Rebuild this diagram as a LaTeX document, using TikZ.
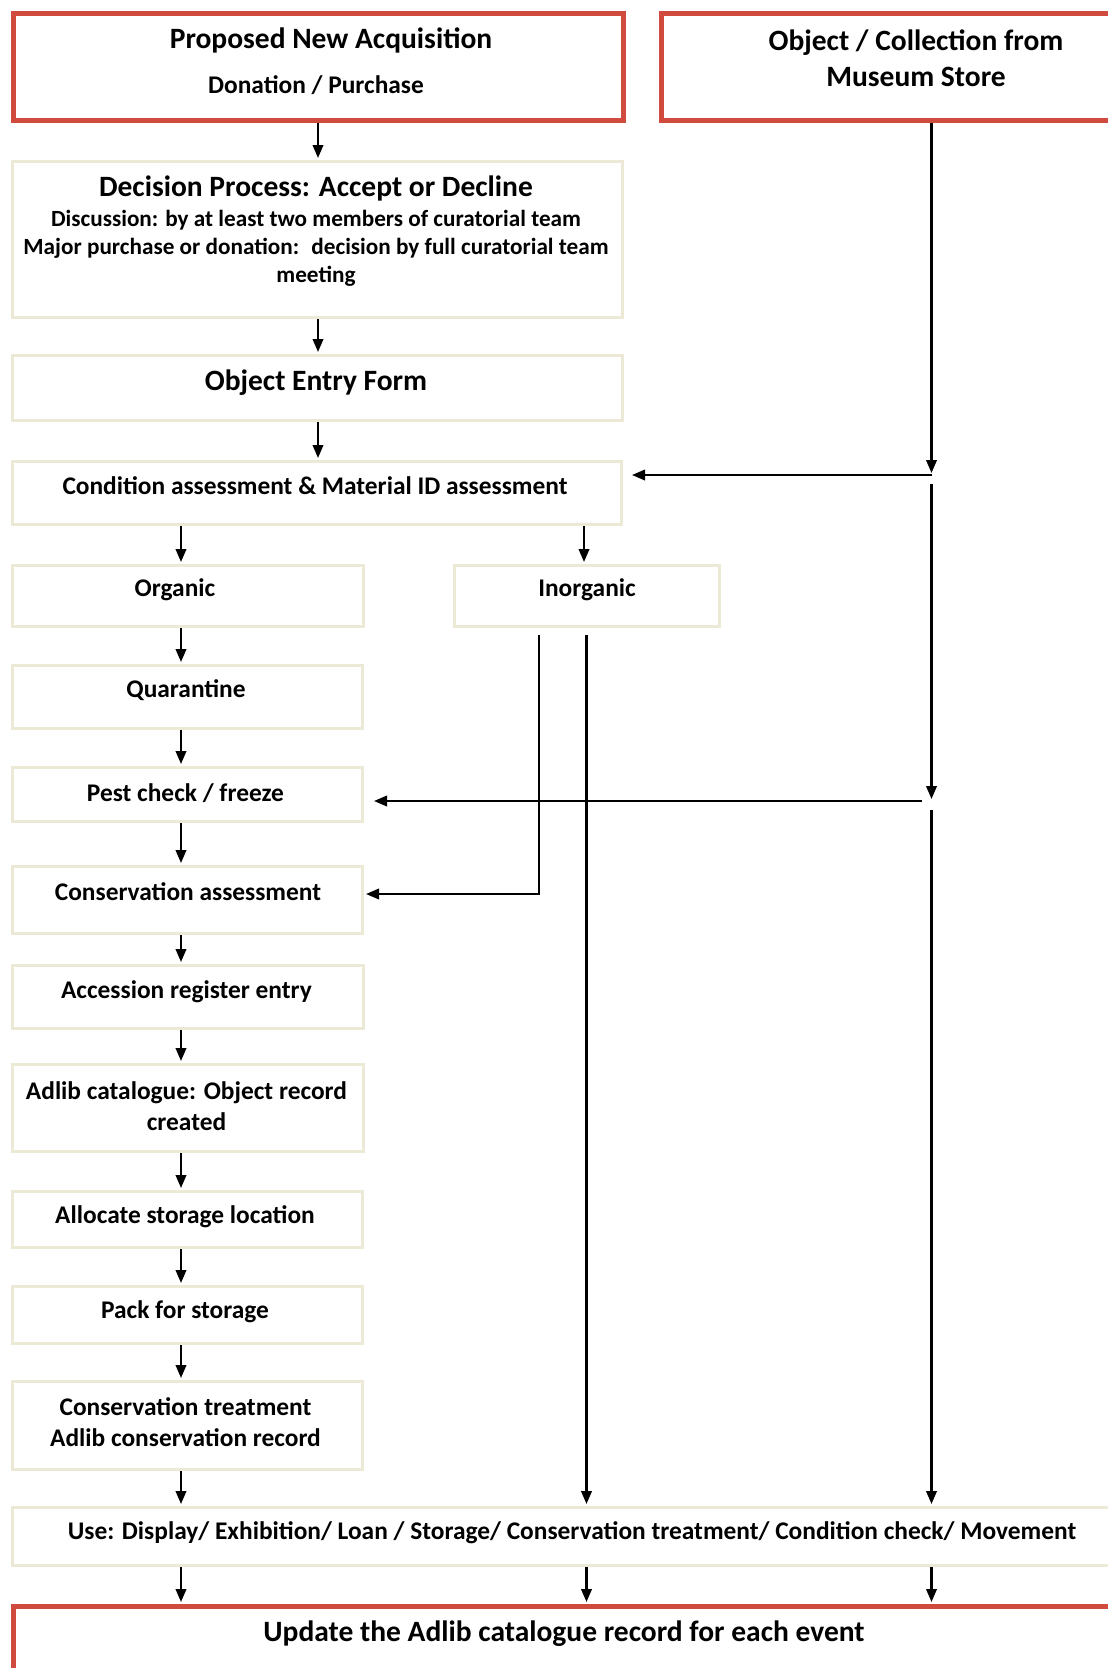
\documentclass[tikz,border=0pt]{standalone}
\usepackage{fontspec}
\setmainfont{Carlito}
\usetikzlibrary{arrows.meta}
\definecolor{redb}{RGB}{208,74,62}
\definecolor{beig}{RGB}{236,233,214}
\begin{document}
\begin{tikzpicture}[x=1pt,y=-1pt,
  redbox/.style={draw=redb, line width=4.5pt, fill=white, inner sep=0pt, anchor=north west},
  beigebox/.style={draw=beig, line width=3pt, fill=white, inner sep=0pt, anchor=north west},
  arr/.style={line width=2.2pt, -{Triangle[length=13pt,width=10.5pt]}, shorten >=2pt},
  big/.style={font=\bfseries\fontsize{29.5}{32}\selectfont, inner sep=0pt, align=center},
  mid/.style={font=\bfseries\fontsize{25.4}{28}\selectfont, inner sep=0pt, align=center},
  sml/.style={font=\bfseries\fontsize{23.2}{28}\selectfont, inner sep=0pt, align=center}]
\useasboundingbox (0,0) rectangle (1108,1668);
\clip (0,0) rectangle (1108,1668);
\fill[white] (0,0) rectangle (1108,1668);

% boxes
\node[redbox, minimum width=610pt, minimum height=107pt] (acq) at (11,11) {};
\node[redbox, minimum width=470pt, minimum height=107pt] (store) at (659,11) {};
\node[beigebox, minimum width=610pt, minimum height=156pt] (dec) at (11,160) {};
\node[beigebox, minimum width=610pt, minimum height=65pt] (entry) at (11,354) {};
\node[beigebox, minimum width=609pt, minimum height=63pt] (cond) at (11,460) {};
\node[beigebox, minimum width=351pt, minimum height=61pt] (org) at (11,564) {};
\node[beigebox, minimum width=265pt, minimum height=61pt] (inorg) at (453,564) {};
\node[beigebox, minimum width=350pt, minimum height=63pt] (quar) at (11,664) {};
\node[beigebox, minimum width=350pt, minimum height=54pt] (pest) at (11,766) {};
\node[beigebox, minimum width=350pt, minimum height=67pt] (consA) at (11,865) {};
\node[beigebox, minimum width=351pt, minimum height=63pt] (acc) at (11,964) {};
\node[beigebox, minimum width=351pt, minimum height=87pt] (adlib) at (11,1063) {};
\node[beigebox, minimum width=350pt, minimum height=56pt] (alloc) at (11,1190) {};
\node[beigebox, minimum width=350pt, minimum height=57pt] (pack) at (11,1285) {};
\node[beigebox, minimum width=350pt, minimum height=88pt] (consT) at (11,1380) {};
\node[beigebox, minimum width=1120pt, minimum height=58pt] (use) at (11,1506) {};
\node[redbox, minimum width=1120pt, minimum height=80pt] (upd) at (11,1604) {};

% texts
\node[big] (t1) at (331,40) {Proposed New Acquisition};
\node[mid] (t2) at (316,85) {Donation / Purchase};
\node[big, font=\bfseries\fontsize{29.5}{36.5}\selectfont] (t3) at (916,58) {Object / Collection from\\Museum Store};
\node[big] (t4) at (316,188) {Decision Process: Accept or Decline};
\node[sml] (t5) at (316,248) {Discussion: by at least two members of curatorial team\\Major purchase or donation:~ decision by full curatorial team\\meeting};
\node[big] (t6) at (316,383) {Object Entry Form};
\node[mid] (t7) at (315,486) {Condition assessment \& Material ID assessment};
\node[mid] (t8) at (175,590) {Organic};
\node[mid] (t9) at (587,590) {Inorganic};
\node[mid] (t10) at (186,690) {Quarantine};
\node[mid] (t11) at (185.5,793) {Pest check / freeze};
\node[mid] (t12) at (188,892) {Conservation assessment};
\node[mid] (t13) at (186.5,992) {Accession register entry};
\node[mid, font=\bfseries\fontsize{25.4}{30.5}\selectfont] (t14) at (186.5,1106) {Adlib catalogue: Object record\\created};
\node[mid] (t15) at (185,1217) {Allocate storage location};
\node[mid] (t16) at (185,1312) {Pack for storage};
\node[mid, font=\bfseries\fontsize{25.4}{31}\selectfont] (t17) at (185.5,1422.5) {Conservation treatment\\Adlib conservation record};
\node[mid] (t18) at (572,1533) {Use: Display/ Exhibition/ Loan / Storage/ Conservation treatment/ Condition check/ Movement};
\node[big] (t19) at (564,1634) {Update the Adlib catalogue record for each event};

% columns and junctions
\coordinate (cA) at (181,0);
\coordinate (cB) at (318,0);
\coordinate (cC) at (584,0);
\coordinate (cI1) at (539,0);
\coordinate (cI2) at (586.5,0);
\coordinate (cS) at (931.5,0);
\coordinate (j1) at (931.5,475);
\coordinate (j2) at (931.5,801);
\coordinate (k1) at (539,894);

% connectors
\draw[arr] (acq.south -| cB) -- (dec.north -| cB);
\draw[arr] (dec.south -| cB) -- (entry.north -| cB);
\draw[arr] (entry.south -| cB) -- (cond.north -| cB);
\draw[arr] (cond.south -| cA) -- (org.north -| cA);
\draw[arr] (cond.south -| cC) -- (inorg.north -| cC);
\draw[arr] (org.south -| cA) -- (quar.north -| cA);
\draw[arr] (quar.south -| cA) -- (pest.north -| cA);
\draw[arr] (pest.south -| cA) -- (consA.north -| cA);
\draw[arr] (consA.south -| cA) -- (acc.north -| cA);
\draw[arr] (acc.south -| cA) -- (adlib.north -| cA);
\draw[arr] (adlib.south -| cA) -- (alloc.north -| cA);
\draw[arr] (alloc.south -| cA) -- (pack.north -| cA);
\draw[arr] (pack.south -| cA) -- (consT.north -| cA);
\draw[arr] (consT.south -| cA) -- (use.north -| cA);

\draw[arr] (store.south -| cS) -- (j1);
\draw[arr, shorten >=9pt] (j1) -- (cond.east |- j1);
\draw[arr] ([yshift=-9pt]j1) -- (j2);
\draw[arr, shorten >=10pt] ([xshift=-10pt]j2) -- (pest.east |- j2);
\draw[arr] ([yshift=-9pt]j2) -- (use.north -| cS);

\draw[arr] ([yshift=-7pt]inorg.south -| cI1) |- (consA.east |- k1);
\draw[arr] ([yshift=-7pt]inorg.south -| cI2) -- (use.north -| cI2);

\draw[arr] (use.south -| cA) -- (upd.north -| cA);
\draw[arr] (use.south -| cI2) -- (upd.north -| cI2);
\draw[arr] (use.south -| cS) -- (upd.north -| cS);
\end{tikzpicture}
\end{document}
